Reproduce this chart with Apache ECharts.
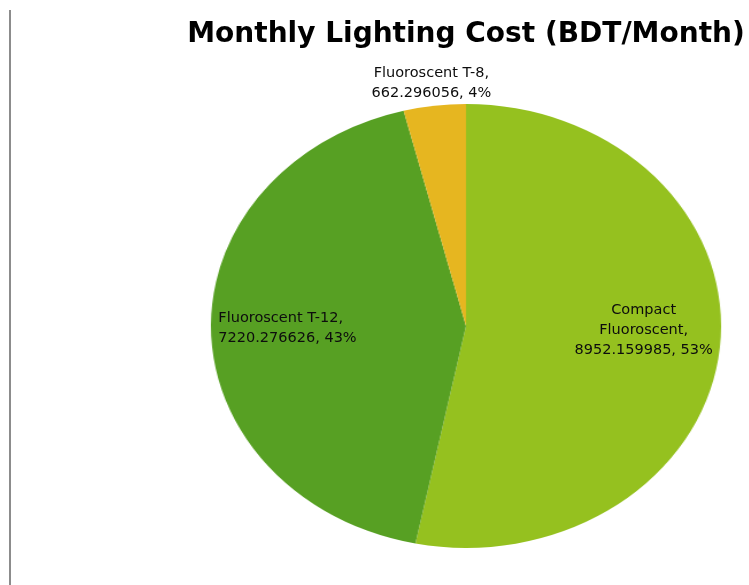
<!DOCTYPE html>
<html>
<head>
<meta charset="utf-8">
<script src="https://cdn.jsdelivr.net/npm/echarts@6/dist/echarts.min.js"></script>
<style>
  html, body { margin: 0; padding: 0; background: #ffffff; }
  #wrap { position: relative; width: 749px; height: 585px; overflow: hidden; background: #ffffff; }
  #pie, #text { position: absolute; left: 0; top: 0; width: 749px; height: 585px; }
  /* the plot area is wider than tall, so the disc is stretched into an ellipse */
  #pie { transform-origin: 466px 326px; transform: scaleX(1.149); }
  #text { pointer-events: none; }
</style>
</head>
<body>
<div id="wrap">
  <div id="pie"></div>
  <div id="text"></div>
</div>
<script>
// Lamp types and their monthly lighting cost (BDT)
const categories = ['Compact Fluoroscent', 'Fluoroscent T-12', 'Fluoroscent T-8'];
const costs = [8952.159985, 7220.276626, 662.296056];
const sliceColors = ['#95c11f', '#57a023', '#e6b620'];
const titleText = 'Monthly Lighting Cost (BDT/Month)';

const CX = 466, CY = 326, R = 222, STRETCH = 1.149;

const pieData = categories.map((name, i) => ({ name, value: costs[i] }));
const total = costs.reduce((a, b) => a + b, 0);

// mid angle of each slice (degrees, counter-clockwise from +x), slices run clockwise from 12 o'clock
const midAngles = [];
let acc = 0;
costs.forEach(v => {
  midAngles.push(90 - 360 * (acc + v / 2) / total);
  acc += v;
});

// filled slices
const pieChart = echarts.init(document.getElementById('pie'), null, { renderer: 'canvas' });
pieChart.setOption({
  animation: false,
  color: sliceColors,
  series: [{
    type: 'pie',
    center: [CX, CY],
    radius: R,
    startAngle: 90,
    clockwise: true,
    silent: true,
    label: { show: false },
    labelLine: { show: false },
    itemStyle: { borderWidth: 0 },
    data: pieData
  }]
});

// title, frame line and slice labels (unstretched text)
const textChart = echarts.init(document.getElementById('text'), null, { renderer: 'canvas' });
textChart.setOption({
  animation: false,
  backgroundColor: 'transparent',
  title: {
    text: titleText,
    left: 461,
    top: 16,
    textAlign: 'center',
    textStyle: { fontFamily: 'DejaVu Sans', fontWeight: 'bold', fontSize: 28, color: '#000000' }
  },
  graphic: [{
    type: 'rect',
    shape: { x: 9, y: 10, width: 2, height: 575 },
    style: { fill: '#8c8c8c' },
    silent: true
  }],
  series: [{
    type: 'pie',
    center: [CX, CY],
    radius: R,
    startAngle: 90,
    clockwise: true,
    silent: true,
    percentPrecision: 0,
    itemStyle: { color: 'rgba(0,0,0,0)', borderWidth: 0 },
    labelLine: { show: false },
    label: {
      show: true,
      position: 'inside',
      fontFamily: 'DejaVu Sans',
      fontSize: 14.5,
      lineHeight: 20,
      color: '#0d0d0d',
      align: 'center',
      formatter: p => {
        const name = p.name.length > 18 ? p.name.replace(' ', '\n') : p.name;
        return name + ',\n' + p.value + ', ' + p.percent + '%';
      }
    },
    labelLayout: params => {
      const i = params.dataIndex;
      const a = midAngles[i] * Math.PI / 180;
      const share = costs[i] / total;
      if (share < 0.1) {
        // small slice: label sits just outside the rim
        return {
          x: CX + 1.1 * R * STRETCH * Math.cos(a),
          y: CY - 1.1 * R * Math.sin(a),
          align: 'center',
          verticalAlign: 'middle'
        };
      }
      // large slices: label at 70% of the horizontal radius, near the center line
      const x = CX + 0.70 * R * STRETCH * Math.cos(a);
      const y = CY + 2 - 0.1 * R * Math.sin(a);
      if (Math.cos(a) < 0) {
        return { x: x - params.labelRect.width / 2, y, align: 'left', verticalAlign: 'middle' };
      }
      return { x, y, align: 'center', verticalAlign: 'middle' };
    },
    data: pieData
  }]
});
</script>
</body>
</html>
